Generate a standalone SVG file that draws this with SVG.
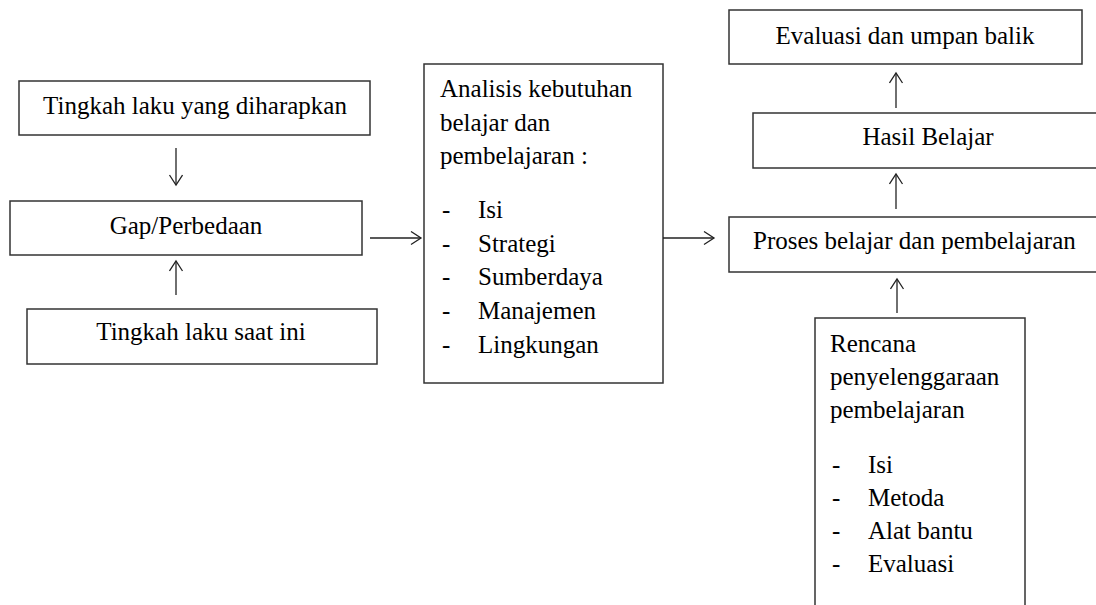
<svg xmlns="http://www.w3.org/2000/svg" width="1096" height="605" viewBox="0 0 1096 605">
<defs>
<marker id="arr" markerWidth="16" markerHeight="16" refX="11" refY="7" orient="auto" markerUnits="userSpaceOnUse">
<path d="M1,0.5 L11,7 L1,13.5" fill="none" stroke="#222" stroke-width="1.3"/>
</marker>
</defs>
<style>
rect{fill:#fff;stroke:#333;stroke-width:1.5}
text{font-size:25px;fill:#000}
.c{text-anchor:middle}
.con line{stroke:#222;stroke-width:1.3;marker-end:url(#arr)}
</style>
<rect x="0" y="0" width="1096" height="605" style="stroke:none"/>
<g font-family="'Liberation Serif', 'DejaVu Serif', serif">
<g id="n-harap"><rect x="19" y="81" width="351" height="54"/><text class="c" x="195" y="114">Tingkah laku yang diharapkan</text></g>
<g id="n-gap"><rect x="10" y="201" width="352" height="54"/><text class="c" x="186" y="234">Gap/Perbedaan</text></g>
<g id="n-saat"><rect x="27" y="309" width="350" height="55"/><text class="c" x="201" y="340">Tingkah laku saat ini</text></g>
<g id="n-analisis"><rect x="424" y="64" width="239" height="319"/>
<text x="440" y="97">Analisis kebutuhan</text>
<text x="440" y="131">belajar dan</text>
<text x="440" y="164">pembelajaran :</text>
<text x="442" y="218">-</text><text x="478" y="218">Isi</text>
<text x="442" y="252">-</text><text x="478" y="252">Strategi</text>
<text x="442" y="285">-</text><text x="478" y="285">Sumberdaya</text>
<text x="442" y="319">-</text><text x="478" y="319">Manajemen</text>
<text x="442" y="353">-</text><text x="478" y="353">Lingkungan</text>
</g>
<g id="n-eval"><rect x="729" y="10" width="353" height="54"/><text class="c" x="905" y="44">Evaluasi dan umpan balik</text></g>
<g id="n-hasil"><rect x="753" y="113" width="360" height="55"/><text class="c" x="928" y="145">Hasil Belajar</text></g>
<g id="n-proses"><rect x="729" y="217" width="380" height="55"/><text x="753" y="249">Proses belajar dan pembelajaran</text></g>
<g id="n-rencana"><rect x="815" y="318" width="210" height="300"/>
<text x="830" y="352">Rencana</text>
<text x="830" y="385">penyelenggaraan</text>
<text x="830" y="418">pembelajaran</text>
<text x="832" y="473">-</text><text x="868" y="473">Isi</text>
<text x="832" y="506">-</text><text x="868" y="506">Metoda</text>
<text x="832" y="539">-</text><text x="868" y="539">Alat bantu</text>
<text x="832" y="572">-</text><text x="868" y="572">Evaluasi</text>
</g>
</g>
<g id="connectors" class="con">
<line x1="176" y1="148" x2="176" y2="185"/>
<line x1="176" y1="295" x2="176" y2="261"/>
<line x1="370" y1="238" x2="421" y2="238"/>
<line x1="663" y1="238" x2="714" y2="238"/>
<line x1="897" y1="313" x2="897" y2="279"/>
<line x1="896" y1="209" x2="896" y2="174"/>
<line x1="896" y1="108" x2="896" y2="73"/>
</g>
</svg>
